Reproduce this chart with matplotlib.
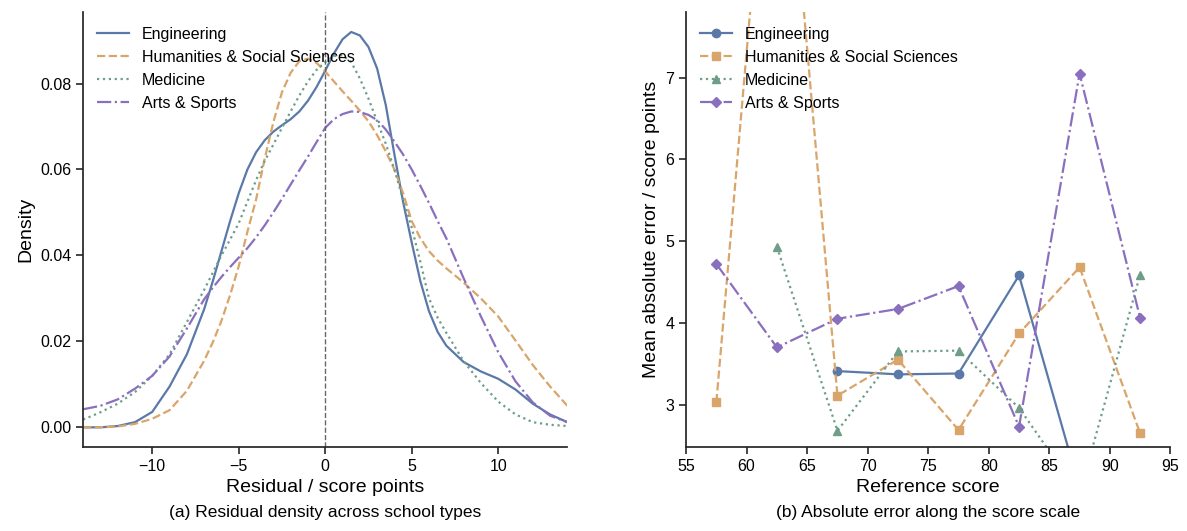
import matplotlib
matplotlib.use("Agg")
import numpy as np
import matplotlib.pyplot as plt

plt.rcParams['font.family'] = ['Liberation Sans', 'DejaVu Sans']

# ---- (a) residual density ----
resid = [-14, -13, -12, -11, -10, -9, -8, -7,
         -6.5, -6, -5.5, -5, -4.5, -4, -3.5, -3, -2.5, -2, -1.5, -1, -0.5, 0,
         0.5, 1, 1.5, 2, 2.5, 3, 3.5, 4, 4.5, 5, 5.5, 6, 6.5,
         7, 8, 9, 10, 11, 12, 13, 14]
dens_eng = [0.0000, 0.0000, 0.0003, 0.0012, 0.0036, 0.0095, 0.0170, 0.0275,
            0.0340, 0.0410, 0.0480, 0.0545, 0.0600, 0.0640, 0.0668, 0.0688,
            0.0703, 0.0717, 0.0735, 0.0760, 0.0792, 0.0830,
            0.0870, 0.0903, 0.0920, 0.0912, 0.0885, 0.0835, 0.0750, 0.0635,
            0.0525, 0.0430, 0.0340, 0.0270, 0.0222,
            0.0190, 0.0152, 0.0130, 0.0113, 0.0088, 0.0055, 0.0030, 0.0012]
dens_hum = [0.0000, 0.0000, 0.0002, 0.0008, 0.0020, 0.0040, 0.0085, 0.0155,
            0.0198, 0.0248, 0.0308, 0.0375, 0.0455, 0.0530, 0.0625, 0.0710,
            0.0780, 0.0825, 0.0852, 0.0858, 0.0848, 0.0828,
            0.0805, 0.0782, 0.0760, 0.0737, 0.0712, 0.0680, 0.0642, 0.0600,
            0.0545, 0.0480, 0.0440, 0.0410, 0.0388,
            0.0370, 0.0337, 0.0300, 0.0258, 0.0202, 0.0145, 0.0095, 0.0050]
dens_med = [0.0018, 0.0035, 0.0055, 0.0082, 0.0120, 0.0170, 0.0245, 0.0320,
            0.0360, 0.0400, 0.0437, 0.0475, 0.0525, 0.0575, 0.0620, 0.0658,
            0.0697, 0.0735, 0.0772, 0.0805, 0.0832, 0.0850,
            0.0864, 0.0866, 0.0850, 0.0812, 0.0765, 0.0712, 0.0660, 0.0600,
            0.0530, 0.0465, 0.0385, 0.0300, 0.0255,
            0.0220, 0.0154, 0.0103, 0.0060, 0.0030, 0.0012, 0.0006, 0.0003]
dens_art = [0.0042, 0.0050, 0.0065, 0.0090, 0.0120, 0.0165, 0.0230, 0.0298,
            0.0325, 0.0350, 0.0373, 0.0395, 0.0417, 0.0442, 0.0470, 0.0500,
            0.0532, 0.0565, 0.0598, 0.0630, 0.0664, 0.0697,
            0.0717, 0.0729, 0.0735, 0.0734, 0.0727, 0.0715, 0.0693, 0.0665,
            0.0635, 0.0600, 0.0562, 0.0522, 0.0480,
            0.0440, 0.0347, 0.0258, 0.0175, 0.0107, 0.0058, 0.0027, 0.0012]

# ---- (b) mean absolute error per score bin ----
score = [57.5, 62.5, 67.5, 72.5, 77.5, 82.5, 87.5, 92.5]
mae_eng = [np.nan, np.nan, 3.41, 3.37, 3.38, 4.58, 1.98, np.nan]
mae_hum = [3.03, 11.6, 3.11, 3.55, 2.69, 3.87, 4.68, 2.65]
mae_med = [np.nan, 4.93, 2.68, 3.65, 3.66, 2.96, 1.90, 4.59]
mae_art = [4.72, 3.70, 4.05, 4.17, 4.45, 2.73, 7.05, 4.06]

names = ["Engineering", "Humanities & Social Sciences", "Medicine", "Arts & Sports"]
colors = ["#5b79a8", "#d9a56a", "#6e9e87", "#8a6fbf"]
styles = ["-", "--", ":", "-."]
markers = ["o", "s", "^", "D"]

fig = plt.figure(figsize=(11.87, 5.31), dpi=100)
ax1 = fig.add_axes([0.070, 0.158, 0.408, 0.819])
ax2 = fig.add_axes([0.578, 0.158, 0.408, 0.819])

for d, n, c, ls in zip([dens_eng, dens_hum, dens_med, dens_art], names, colors, styles):
    ax1.plot(resid, d, color=c, linestyle=ls, linewidth=1.6, label=n)
ax1.axvline(0, color="#666666", linestyle="--", linewidth=1.0)
ax1.set_xlim(-14, 14)
ax1.set_ylim(-0.0046, 0.0966)
ax1.set_xticks([-10, -5, 0, 5, 10])
ax1.set_xticklabels(["\u221210", "\u22125", "0", "5", "10"])
ax1.set_yticks([0.00, 0.02, 0.04, 0.06, 0.08])
ax1.set_yticklabels(["0.00", "0.02", "0.04", "0.06", "0.08"])
ax1.set_xlabel("Residual / score points", fontsize=14)
ax1.set_ylabel("Density", fontsize=14)
ax1.legend(loc="upper left", frameon=False, fontsize=11.5)

for m, n, c, ls, mk in zip([mae_eng, mae_hum, mae_med, mae_art], names, colors, styles, markers):
    ax2.plot(score, m, color=c, linestyle=ls, linewidth=1.6, marker=mk,
             markersize=6 if mk != "D" else 5.5, label=n)
ax2.set_xlim(55, 95)
ax2.set_ylim(2.48, 7.8)
ax2.set_xticks([55, 60, 65, 70, 75, 80, 85, 90, 95])
ax2.set_yticks([3, 4, 5, 6, 7])
ax2.set_xlabel("Reference score", fontsize=14)
ax2.set_ylabel("Mean absolute error / score points", fontsize=14)
ax2.legend(loc="upper left", frameon=False, fontsize=11.5)

for ax in (ax1, ax2):
    for s in ("top", "right"):
        ax.spines[s].set_visible(False)
    for s in ("left", "bottom"):
        ax.spines[s].set_color("#262626")
        ax.spines[s].set_linewidth(1.25)
    ax.tick_params(labelsize=11.5, length=5, width=1.2, color="#262626")

fig.text(0.274, 0.026, "(a) Residual density across school types", ha="center", fontsize=12.5)
fig.text(0.782, 0.026, "(b) Absolute error along the score scale", ha="center", fontsize=12.5)

fig.savefig("out.png", dpi=100)
